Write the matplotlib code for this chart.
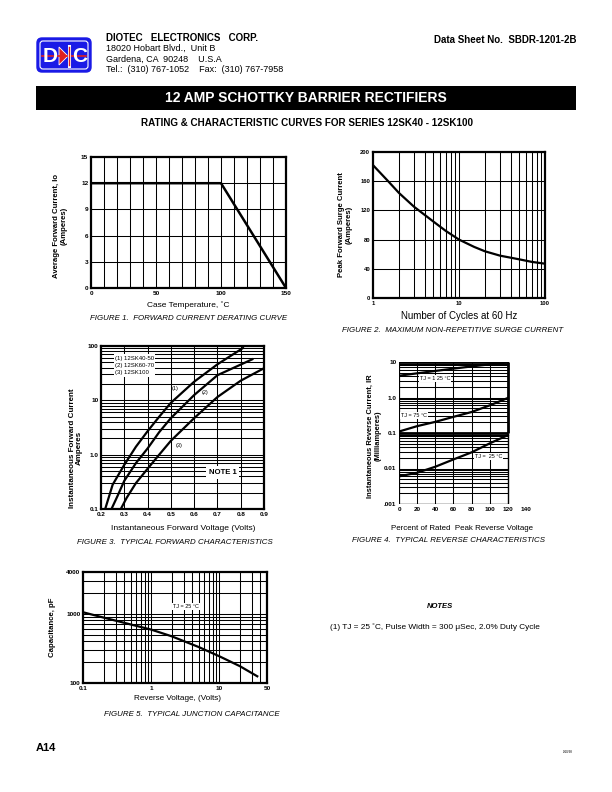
import numpy as np
import matplotlib
matplotlib.use("Agg")
import matplotlib.pyplot as plt
from matplotlib.patches import FancyBboxPatch, Rectangle, Polygon

plt.rcParams['font.family'] = ['Liberation Sans', 'DejaVu Sans']

# ---- data ----
# fig 1 derating
case_temp = [0, 100, 150]
avg_current = [12, 12, 0]

# fig 2 surge
cycles = [1, 1.5, 2, 3, 5, 7, 10, 15, 20, 30, 50, 70, 100]
surge = [182, 160, 144, 125, 105, 92, 80, 70, 64, 58, 53, 49.5, 47]

# fig 3 forward characteristics
vf1 = [0.218, 0.25, 0.3, 0.35, 0.4, 0.45, 0.5, 0.6, 0.7, 0.81]
if1 = [0.1, 0.28, 0.65, 1.4, 2.7, 5.0, 9, 22, 46, 92]
vf2 = [0.245, 0.27, 0.3, 0.35, 0.4, 0.45, 0.5, 0.6, 0.7, 0.85]
if2 = [0.1, 0.17, 0.33, 0.7, 1.3, 2.6, 4.7, 12.5, 29, 57]
vf3 = [0.285, 0.31, 0.35, 0.4, 0.45, 0.5, 0.6, 0.7, 0.8, 0.9]
if3 = [0.1, 0.16, 0.3, 0.55, 1.0, 1.8, 4.7, 11.5, 23, 39]
series_names = ["(1) 12SK40-50", "(2) 12SK60-70", "(3) 12SK100"]

# fig 4 reverse characteristics
pct = [0, 20, 40, 60, 80, 100, 120]
ir125 = [4.1, 4.8, 5.6, 6.5, 7.5, 8.6, 9.8]
ir75 = [0.11, 0.156, 0.206, 0.285, 0.39, 0.6, 0.97]
ir25 = [0.006, 0.0076, 0.0112, 0.018, 0.0285, 0.051, 0.087]

# fig 5 junction capacitance
vr = [0.1, 0.2, 0.5, 1, 2, 5, 10, 20, 36]
cap = [1050, 880, 700, 590, 472, 330, 243, 175, 125]

W, H = 612, 792
fig = plt.figure(figsize=(6.12, 7.92), dpi=100)
fig.patch.set_facecolor("white")

page = fig.add_axes([0, 0, 1, 1])
page.set_xlim(0, W)
page.set_ylim(H, 0)
page.axis("off")


def box(x0, y0, x1, y1):
    return [x0 / W, 1 - y1 / H, (x1 - x0) / W, (y1 - y0) / H]


GRID = dict(color="black", lw=0.75)
SP = 1.6
TICK_FS = 4.6
LAB_FS = 5.6
CAP_FS = 5.7


def style(ax):
    for s in ax.spines.values():
        s.set_linewidth(SP)
    ax.tick_params(length=0, labelsize=TICK_FS, pad=2)
    for t in ax.get_xticklabels() + ax.get_yticklabels():
        t.set_fontweight("bold")


def log_lines(lo, hi):
    out = []
    d = lo
    while d < hi:
        for k in range(1, 10):
            v = d * k
            if lo < v < hi:
                out.append(v)
        d *= 10
    return out


# ---------------- header ----------------
logo = FancyBboxPatch((37, 38), 54, 34, boxstyle="round,pad=0,rounding_size=5",
                      fc="#1a1ae6", ec="#1a1ae6", lw=1)
page.add_patch(logo)
page.add_patch(FancyBboxPatch((40, 41), 48, 28, boxstyle="round,pad=0,rounding_size=3",
                              fc="none", ec="white", lw=0.8))
page.text(50, 56, "D", color="white", fontsize=15, fontweight="bold", ha="center", va="center")
page.text(80, 56, "C", color="white", fontsize=15, fontweight="bold", ha="center", va="center")
page.plot([42, 86], [56, 56], color="#e02020", lw=1.2)
page.add_patch(Polygon([[59, 47], [59, 65], [68, 56]], closed=True, fc="#e02020", ec="white", lw=0.6))
page.plot([69, 69], [46, 66], color="white", lw=2.2)
page.plot([69, 69], [47, 65], color="#e02020", lw=1.0)

page.text(106, 38, "DIOTEC   ELECTRONICS   CORP.", fontsize=7, fontweight="bold", va="center")
page.text(106, 48.5, "18020 Hobart Blvd.,  Unit B", fontsize=6.5, va="center")
page.text(106, 59, "Gardena, CA  90248    U.S.A", fontsize=6.5, va="center")
page.text(106, 69.5, "Tel.:  (310) 767-1052    Fax:  (310) 767-7958", fontsize=6.5, va="center")
page.text(576, 40, "Data Sheet No.  SBDR-1201-2B", fontsize=7, fontweight="bold", ha="right", va="center")

page.add_patch(Rectangle((36, 86), 540, 24, fc="black", ec="none"))
page.text(306, 98.5, "12 AMP SCHOTTKY BARRIER RECTIFIERS", color="white", fontsize=10,
          fontweight="bold", ha="center", va="center")
page.text(307, 123, "RATING & CHARACTERISTIC CURVES FOR SERIES 12SK40 - 12SK100", fontsize=7.1,
          fontweight="bold", ha="center", va="center")

# ---------------- figure 1 ----------------
ax1 = fig.add_axes(box(91, 157, 286, 288))
ax1.set_xlim(0, 150)
ax1.set_ylim(0, 15)
for x in range(10, 150, 10):
    ax1.axvline(x, **GRID)
for y in range(3, 15, 3):
    ax1.axhline(y, **GRID)
ax1.plot(case_temp, avg_current, color="black", lw=1.8, solid_joinstyle="miter")
ax1.set_xticks([0, 50, 100, 150])
ax1.set_yticks([0, 3, 6, 9, 12, 15])
style(ax1)
page.text(60, 226, "Average Forward Current, Io\n(Amperes)", rotation=90, fontsize=LAB_FS,
          fontweight="bold", ha="center", va="center", linespacing=1.1)
page.text(188, 305, "Case Temperature, ˚C", fontsize=6, ha="center", va="center")
page.text(189, 318, "FIGURE 1.  FORWARD CURRENT DERATING CURVE", fontsize=CAP_FS, fontstyle="italic",
          ha="center", va="center")

# ---------------- figure 2 ----------------
ax2 = fig.add_axes(box(373, 152, 545, 298))
ax2.set_xscale("log")
ax2.set_xlim(1, 100)
ax2.set_ylim(0, 200)
for x in log_lines(1, 100):
    ax2.axvline(x, **GRID)
for y in range(40, 200, 40):
    ax2.axhline(y, **GRID)
ax2.plot(cycles, surge, color="black", lw=1.6)
ax2.set_xticks([1, 10, 100])
ax2.set_xticklabels(["1", "10", "100"])
ax2.xaxis.set_minor_locator(matplotlib.ticker.NullLocator())
ax2.set_yticks([0, 40, 80, 120, 160, 200])
style(ax2)
for t in ax2.get_xticklabels() + ax2.get_yticklabels():
    t.set_fontsize(4.2)
page.text(345, 225, "Peak Forward Surge Current\n(Amperes)", rotation=90, fontsize=LAB_FS,
          fontweight="bold", ha="center", va="center", linespacing=1.1)
page.text(459, 316, "Number of Cycles at 60 Hz", fontsize=7.0, ha="center", va="center")
page.text(453, 330, "FIGURE 2.  MAXIMUM NON-REPETITIVE SURGE CURRENT", fontsize=CAP_FS,
          fontstyle="italic", ha="center", va="center")

# ---------------- figure 3 ----------------
ax3 = fig.add_axes(box(101, 346, 264, 509))
ax3.set_yscale("log")
ax3.set_xlim(0.2, 0.9)
ax3.set_ylim(0.1, 100)
for x in np.arange(0.3, 0.85, 0.1):
    ax3.axvline(x, **GRID)
for y in log_lines(0.1, 100):
    ax3.axhline(y, **GRID)
ax3.plot(vf1, if1, color="black", lw=1.6)
ax3.plot(vf2, if2, color="black", lw=1.6)
ax3.plot(vf3, if3, color="black", lw=1.6)
ax3.set_xticks([0.2, 0.3, 0.4, 0.5, 0.6, 0.7, 0.8, 0.9])
ax3.set_xticklabels(["0.2", "0.3", "0.4", "0.5", "0.6", "0.7", "0.8", "0.9"])
ax3.set_yticks([0.1, 1, 10, 100])
ax3.set_yticklabels(["0.1", "1.0", "10", "100"])
ax3.yaxis.set_minor_locator(matplotlib.ticker.NullLocator())
style(ax3)
ax3.add_patch(Rectangle((0.255, 27), 0.175, 45, fc="white", ec="none", zorder=3))
for i, nm in enumerate(series_names):
    ax3.text(0.262, [58, 43, 32][i], nm, fontsize=4.3, va="center", zorder=4)
ax3.add_patch(Rectangle((0.652, 0.36), 0.14, 0.27, fc="white", ec="none", zorder=3))
ax3.text(0.722, 0.475, "NOTE 1", fontsize=5.6, fontweight="bold", ha="center", va="center", zorder=4)
ax3.text(0.517, 16.5, "(1)", fontsize=4, ha="center", va="center")
ax3.text(0.647, 14, "(2)", fontsize=4, ha="center", va="center")
ax3.text(0.537, 1.45, "(3)", fontsize=4, ha="center", va="center")
page.text(76, 448, "Instantaneous Forward Current\nAmperes", rotation=90, fontsize=5.8,
          fontweight="bold", ha="center", va="center", linespacing=1.1)
page.text(183, 528, "Instantaneous Forward Voltage (Volts)", fontsize=6.1, ha="center", va="center")
page.text(175, 542, "FIGURE 3.  TYPICAL FORWARD CHARACTERISTICS", fontsize=CAP_FS, fontstyle="italic",
          ha="center", va="center")

# ---------------- figure 4 ----------------
ax4 = fig.add_axes(box(399, 362, 526, 504))
ax4.set_yscale("log")
ax4.set_xlim(0, 140)
ax4.set_ylim(0.001, 10)
for s in ax4.spines.values():
    s.set_visible(False)
for y in log_lines(0.001, 10):
    ax4.hlines(y, 0, 120, **GRID)
for x in range(20, 120, 20):
    ax4.vlines(x, 0.001, 10, **GRID)
ax4.vlines(0, 0.001, 10, color="black", lw=SP)
ax4.vlines(120, 0.001, 0.1, color="black", lw=1.0)
ax4.vlines(120, 0.1, 10, color="black", lw=2.0)
ax4.hlines(10, 0, 120, color="black", lw=2.0)
ax4.hlines(0.1, 0, 120, color="black", lw=2.0)
ax4.hlines(0.001, 0, 120, color="black", lw=1.0)
ax4.plot(pct, ir125, color="black", lw=1.6)
ax4.plot(pct, ir75, color="black", lw=1.6)
ax4.plot(pct, ir25, color="black", lw=1.6)
ax4.set_xticks(range(0, 141, 20))
ax4.set_yticks([0.001, 0.01, 0.1, 1, 10])
ax4.set_yticklabels([".001", "0.01", "0.1", "1.0", "10"])
ax4.yaxis.set_minor_locator(matplotlib.ticker.NullLocator())
style(ax4)
ax4.text(23, 3.5, "TJ = 1 25 °C", fontsize=4, va="center",
         bbox=dict(fc="white", ec="none", pad=0.6))
ax4.text(2, 0.31, "TJ = 75 °C", fontsize=4, va="center",
         bbox=dict(fc="white", ec="none", pad=0.6))
ax4.text(84, 0.022, "TJ =  25 °C", fontsize=4, va="center",
         bbox=dict(fc="white", ec="none", pad=0.6))
page.text(374, 436, "Instantaneous Reverse Current, IR\n(Milliamperes)", rotation=90, fontsize=5.4,
          fontweight="bold", ha="center", va="center", linespacing=1.1)
page.text(462, 529, "Percent of Rated  Peak Reverse Voltage", fontsize=5.7, ha="center", va="center")
page.text(352, 541, "FIGURE 4.  TYPICAL REVERSE CHARACTERISTICS", fontsize=CAP_FS, fontstyle="italic",
          ha="left", va="center")

# ---------------- figure 5 ----------------
ax5 = fig.add_axes(box(83, 572, 267, 683))
ax5.set_xscale("log")
ax5.set_yscale("log")
ax5.set_xlim(0.1, 50)
ax5.set_ylim(100, 4000)
for x in log_lines(0.1, 50):
    ax5.axvline(x, **GRID)
for y in log_lines(100, 4000):
    ax5.axhline(y, **GRID)
ax5.plot(vr, cap, color="black", lw=1.6)
ax5.set_xticks([0.1, 1, 10, 50])
ax5.set_xticklabels(["0.1", "1", "10", "50"])
ax5.set_yticks([100, 1000, 4000])
ax5.set_yticklabels(["100", "1000", "4000"])
ax5.xaxis.set_minor_locator(matplotlib.ticker.NullLocator())
ax5.yaxis.set_minor_locator(matplotlib.ticker.NullLocator())
style(ax5)
ax5.text(3.2, 1280, "TJ = 25 °C", fontsize=4, ha="center", va="center",
         bbox=dict(fc="white", ec="none", pad=0.8))
page.text(53, 627, "Capacitance, pF", rotation=90, fontsize=LAB_FS, fontweight="bold",
          ha="center", va="center")
page.text(177, 699, "Reverse Voltage, (Volts)", fontsize=5.9, ha="center", va="center")
page.text(192, 715, "FIGURE 5.  TYPICAL JUNCTION CAPACITANCE", fontsize=CAP_FS, fontstyle="italic",
          ha="center", va="center")

# ---------------- notes / footer ----------------
page.text(440, 607, "NOTES", fontsize=5.5, fontstyle="italic", fontweight="bold", ha="center", va="center")
page.text(435, 627, "(1) TJ = 25 ˚C, Pulse Width = 300 μSec, 2.0% Duty Cycle", fontsize=5.95,
          ha="center", va="center")
page.text(36, 748, "A14", fontsize=8, fontweight="bold", va="center")
page.text(568, 752, "9/10/98", fontsize=2.2, ha="center", va="center")

fig.savefig("out.png", dpi=100)
